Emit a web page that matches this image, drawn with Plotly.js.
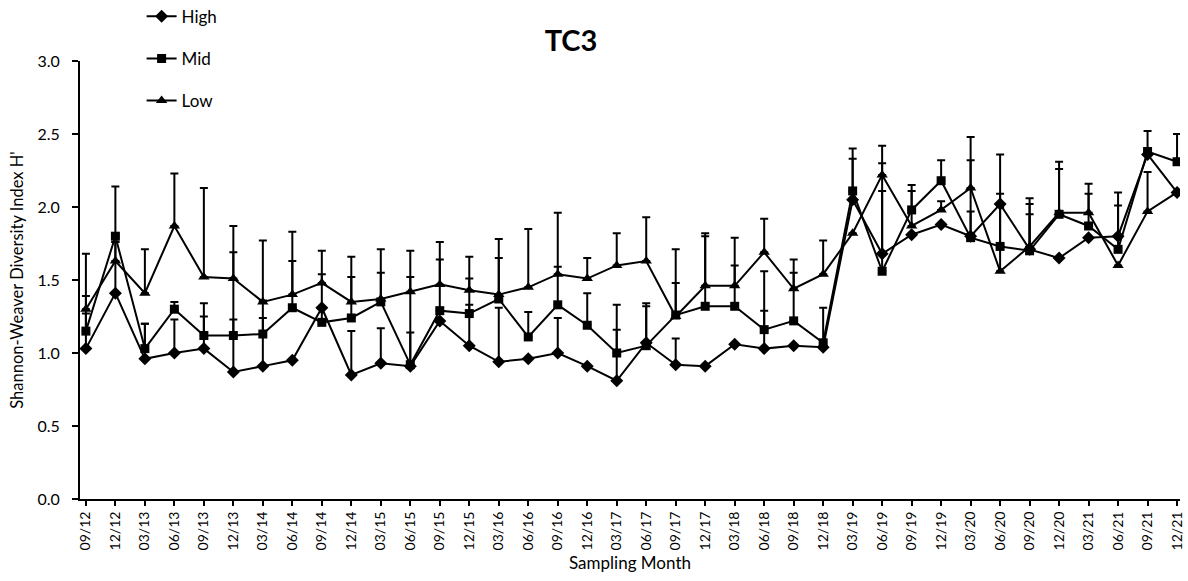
<!DOCTYPE html>
<html>
<head>
<meta charset="utf-8">
<script src="https://cdn.plot.ly/plotly-3.0.1.min.js"></script>
<style>html,body{margin:0;padding:0;background:#fff;}#chart{width:1188px;height:581px;}</style>
</head>
<body>
<div id="chart"></div>
<script>
const months = ["09/12","12/12","03/13","06/13","09/13","12/13","03/14","06/14","09/14","12/14",
  "03/15","06/15","09/15","12/15","03/16","06/16","09/16","12/16","03/17","06/17",
  "09/17","12/17","03/18","06/18","09/18","12/18","03/19","06/19","09/19","12/19",
  "03/20","06/20","09/20","12/20","03/21","06/21","09/21","12/21"];

const high = [1.03,1.41,0.96,1.00,1.03,0.87,0.91,0.95,1.31,0.85,
  0.93,0.91,1.22,1.05,0.94,0.96,1.00,0.91,0.81,1.07,
  0.92,0.91,1.06,1.03,1.05,1.04,2.05,1.68,1.81,1.88,
  1.80,2.02,1.71,1.65,1.79,1.80,2.36,2.10];
const mid = [1.15,1.80,1.03,1.30,1.12,1.12,1.13,1.31,1.21,1.24,
  1.35,0.92,1.29,1.27,1.37,1.11,1.33,1.19,1.00,1.05,
  1.26,1.32,1.32,1.16,1.22,1.07,2.11,1.56,1.98,2.18,
  1.79,1.73,1.70,1.95,1.87,1.71,2.38,2.31];
const low = [1.30,1.63,1.41,1.87,1.52,1.51,1.35,1.40,1.48,1.35,
  1.37,1.42,1.47,1.43,1.40,1.45,1.54,1.51,1.60,1.63,
  1.25,1.46,1.46,1.69,1.44,1.54,1.82,2.22,1.87,1.98,
  2.13,1.56,1.73,1.96,1.96,1.60,1.97,2.10];

const highErr = [0.24,0.35,0.24,0.23,0.22,0.36,0.33,0,0,0.30,
  0.24,0.23,0,0.28,0.37,0,0.24,0,0.35,0.27,
  0.18,0,0,0.26,0,0,0.28,0.43,0,0,
  0.17,0.34,0.31,0,0,0.30,0,0];
const midErr = [0.53,0.34,0.17,0.05,0.22,0.57,0.23,0.32,0.33,0.28,
  0.20,0.60,0.35,0.24,0.28,0.17,0.26,0.22,0.33,0.27,
  0.45,0.48,0.28,0.40,0.33,0.24,0.29,0.74,0.17,0.14,
  0.53,0.36,0.25,0.31,0.22,0.30,0.14,0.19];
const lowErr = [0.09,0.13,0.30,0.36,0.61,0.36,0.42,0.43,0.22,0.31,
  0.34,0.28,0.29,0.23,0.38,0.40,0.42,0.14,0.22,0.30,
  0.23,0.36,0.33,0.23,0.20,0.23,0,0.20,0.24,0.06,
  0.35,0.44,0.33,0.35,0.20,0,0.27,0];

const yTicks = [0,0.5,1.0,1.5,2.0,2.5,3.0];
const zeros = months.map(() => 0);

function series(name, y, err, symbol, size, group) {
  return {
    x: months, y: y, name: name, type: 'scatter', mode: 'lines+markers',
    legendgroup: group,
    line: {color: '#000', width: 2},
    marker: {symbol: symbol, size: size, color: '#000'},
    error_y: {type: 'data', symmetric: false, array: err, arrayminus: zeros,
      color: '#000', thickness: 2, width: 4}
  };
}

const data = [
  series('High', high, highErr, 'diamond', 10, 'g1'),
  series('Mid', mid, midErr, 'square', 9, 'g2'),
  series('Low', low, lowErr, 'triangle-up', 10, 'g3')
];

const font = 'Lato, "Open Sans", sans-serif';
const layout = {
  width: 1188, height: 581,
  margin: {l: 80, r: 8, t: 61, b: 82, autoexpand: false},
  paper_bgcolor: '#fff', plot_bgcolor: '#fff',
  font: {family: font, color: '#000'},
  title: {text: '<b>TC3</b>', font: {size: 29, family: font, color: '#000'},
    xref: 'container', yref: 'container', x: 571/1188, y: 1 - 41/581, xanchor: 'center', yanchor: 'middle'},
  showlegend: true,
  legend: {x: 0.056, y: 1.142, xanchor: 'left', yanchor: 'top', orientation: 'v',
    font: {size: 17, family: font}, tracegroupgap: 17, bgcolor: 'rgba(0,0,0,0)', itemwidth: 30},
  xaxis: {
    type: 'category', range: [-0.2, 37.1], showgrid: false, zeroline: false,
    showline: true, linecolor: '#000', linewidth: 2,
    ticks: 'outside', ticklen: 5, tickwidth: 2, tickcolor: '#000',
    tickangle: -90, tickfont: {size: 14, family: font},
    title: {text: 'Sampling Month', font: {size: 17, family: font}, standoff: 8}
  },
  yaxis: {
    range: [0, 3], tickvals: yTicks, tickformat: '.1f', showgrid: false, zeroline: false,
    showline: true, linecolor: '#000', linewidth: 2,
    ticks: 'outside', ticklen: 6, tickwidth: 2, tickcolor: '#000',
    ticklabelstandoff: 9,
    tickfont: {size: 16, family: font},
    title: {text: "Shannon-Weaver Diversity Index H'", font: {size: 16.5, family: font}, standoff: 10}
  }
};

Plotly.newPlot('chart', data, layout, {displayModeBar: false, staticPlot: true});
</script>
</body>
</html>
